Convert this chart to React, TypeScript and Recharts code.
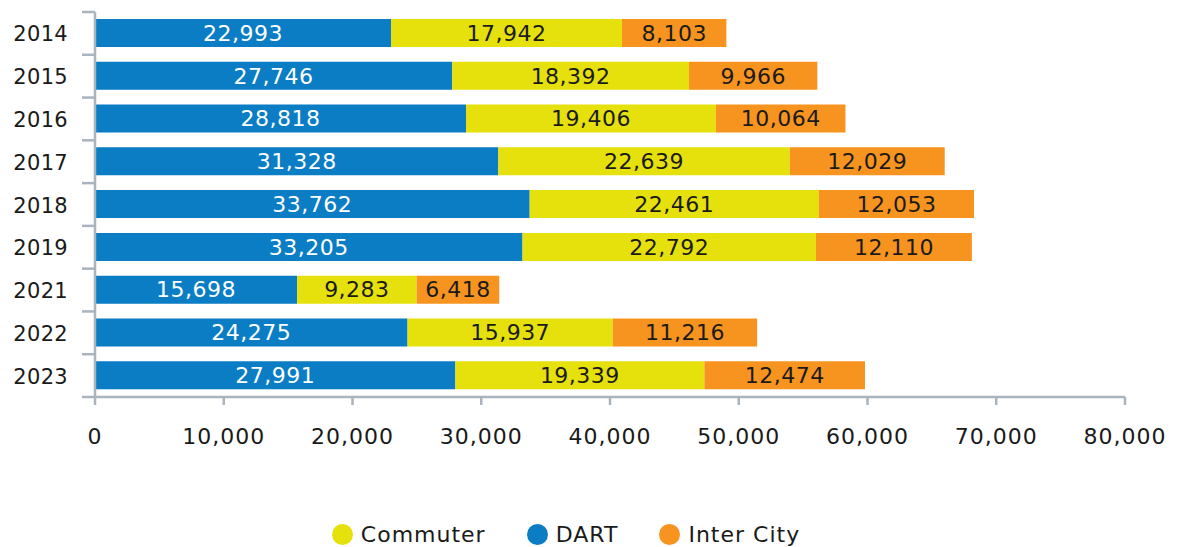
import React from "react";
import { BarChart, Bar, XAxis, YAxis, Legend, LabelList } from "recharts";

const years = ["2014", "2015", "2016", "2017", "2018", "2019", "2021", "2022", "2023"];
const dart = [22993, 27746, 28818, 31328, 33762, 33205, 15698, 24275, 27991];
const commuter = [17942, 18392, 19406, 22639, 22461, 22792, 9283, 15937, 19339];
const interCity = [8103, 9966, 10064, 12029, 12053, 12110, 6418, 11216, 12474];
const xTicks = [0, 10000, 20000, 30000, 40000, 50000, 60000, 70000, 80000];

const BLUE = "#0a7dc4";
const YELLOW = "#e6e10c";
const ORANGE = "#f7941f";
const AXIS = "#a9b4be";
const FONT = "DejaVu Sans, sans-serif";

const data = years.map((year, i) => ({
  year,
  dart: dart[i],
  commuter: commuter[i],
  interCity: interCity[i],
}));

const fmt = (v: any) => Number(v).toLocaleString("en-US");

// category labels, with tick marks between the bands instead of at their centres
const YearTick = (props: any) => {
  const { x, y, payload, index, visibleTicksCount } = props;
  const half = payload && payload.offset ? payload.offset : 21.4;
  const axisX = x + 8;
  return (
    <g>
      <line x1={axisX - 13} x2={axisX} y1={y - half} y2={y - half} stroke={AXIS} strokeWidth={2.5} />
      {index === visibleTicksCount - 1 && (
        <line x1={axisX - 13} x2={axisX} y1={y + half} y2={y + half} stroke={AXIS} strokeWidth={2.5} />
      )}
      <text x={axisX - 27} y={y} dy={8} textAnchor="end" fill="#1a1a1a" fontSize={21} fontFamily={FONT} letterSpacing={0.3}>
        {payload.value}
      </text>
    </g>
  );
};

const legendItems = [
  { name: "Commuter", color: YELLOW },
  { name: "DART", color: BLUE },
  { name: "Inter City", color: ORANGE },
];

const LegendContent = () => (
  <div style={{ display: "flex", justifyContent: "center", alignItems: "center", height: 30, paddingLeft: 40 }}>
    {legendItems.map((item) => (
      <div key={item.name} style={{ display: "flex", alignItems: "center", marginRight: 41 }}>
        <span
          style={{
            width: 21,
            height: 21,
            borderRadius: 11,
            background: item.color,
            display: "inline-block",
            marginRight: 8,
          }}
        />
        <span style={{ fontFamily: FONT, fontSize: 22, letterSpacing: 1, color: "#1a1a1a" }}>{item.name}</span>
      </div>
    ))}
  </div>
);

const labelStyle = { fontSize: 22, fontFamily: FONT, letterSpacing: 0.5 };

export default function App() {
  return (
    <BarChart
      width={1170}
      height={539}
      data={data}
      layout="vertical"
      margin={{ top: 4, right: 53, bottom: 0, left: 0 }}
      barSize={28}
    >
      <XAxis
        type="number"
        domain={[0, 80000]}
        ticks={xTicks}
        tickFormatter={fmt}
        height={120}
        axisLine={{ stroke: AXIS, strokeWidth: 2.5 }}
        tickLine={{ stroke: AXIS, strokeWidth: 2.5 }}
        tickSize={8}
        tickMargin={23}
        tick={{ fill: "#1a1a1a", fontSize: 22, fontFamily: FONT, letterSpacing: 1 }}
        interval={0}
      />
      <YAxis
        type="category"
        dataKey="year"
        width={87}
        axisLine={{ stroke: AXIS, strokeWidth: 2.5 }}
        tickLine={false}
        tick={<YearTick />}
        interval={0}
      />
      <Legend verticalAlign="bottom" content={<LegendContent />} wrapperStyle={{ bottom: -2 }} />
      <Bar dataKey="dart" name="DART" stackId="a" fill={BLUE} isAnimationActive={false}>
        <LabelList dataKey="dart" position="center" formatter={fmt} fill="#ffffff" {...labelStyle} />
      </Bar>
      <Bar dataKey="commuter" name="Commuter" stackId="a" fill={YELLOW} isAnimationActive={false}>
        <LabelList dataKey="commuter" position="center" formatter={fmt} fill="#1a1a1a" {...labelStyle} />
      </Bar>
      <Bar dataKey="interCity" name="Inter City" stackId="a" fill={ORANGE} isAnimationActive={false}>
        <LabelList dataKey="interCity" position="center" formatter={fmt} fill="#1a1a1a" {...labelStyle} />
      </Bar>
    </BarChart>
  );
}
